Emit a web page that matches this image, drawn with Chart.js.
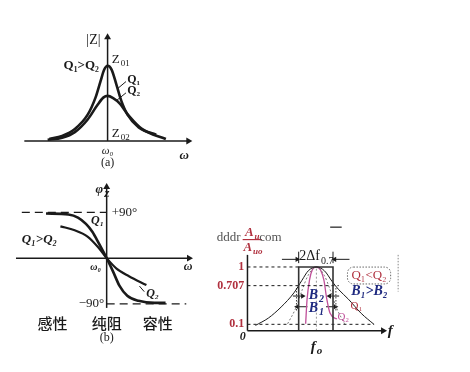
<!DOCTYPE html>
<html>
<head>
<meta charset="utf-8">
<script src="https://cdn.jsdelivr.net/npm/chart.js@4.4.1/dist/chart.umd.min.js"></script>
<style>
  body { margin: 0; background: #fff; width: 470px; height: 372px; overflow: hidden; }
  .box { position: absolute; }
  .box canvas { display: block; }
</style>
</head>
<body>
<div class="box" style="left:12px;top:28px;width:187px;height:147px"><canvas id="chartA" width="187" height="147"></canvas></div>
<div class="box" style="left:7px;top:178px;width:191px;height:173px"><canvas id="chartB" width="191" height="173"></canvas></div>
<div class="box" style="left:209px;top:212px;width:201px;height:145px"><canvas id="chartC" width="201" height="145"></canvas></div>
<script>
// (a) 阻抗幅频特性 |Z| - ω
const omegaQ1A = [0.30, 0.454, 0.607, 0.761, 0.856, 0.914, 0.96, 1.0, 1.048, 1.106, 1.163, 1.239, 1.374, 1.584];
const zQ1A     = [0.025, 0.068, 0.16, 0.35, 0.58, 0.79, 0.95, 1.0, 0.95, 0.75, 0.54, 0.35, 0.18, 0.084];
const omegaQ2A = [0.28, 0.454, 0.607, 0.761, 0.876, 0.952, 1.0, 1.067, 1.144, 1.259, 1.412, 1.70];
const zQ2A     = [0.015, 0.043, 0.118, 0.286, 0.475, 0.58, 0.60, 0.57, 0.50, 0.33, 0.16, 0.025];

// (b) 阻抗相频特性 φZ - ω
const omegaQ1B = [0.271, 0.54, 0.655, 0.751, 0.828, 0.903, 1.0, 1.076, 1.153, 1.248, 1.383, 1.575, 1.708];
const phiQ1B   = [88, 86, 80, 67.5, 52, 30, 0, -26, -54, -74, -84, -88, -88];
const omegaQ2B = [0.444, 0.616, 0.77, 0.903, 1.0, 1.115, 1.268, 1.478];
const phiQ2B   = [62.7, 55, 42.6, 20.6, 0, -20, -35.6, -53];
const phaseTicks = [90, -90];
const phaseTickLabels = ['+90°', '−90°'];
const regionLabels = ['感性', '纯阻', '容性'];

// (c) 通频带 Au/Auo - f
const fQ1C = [0.116, 0.303, 0.488, 0.674, 0.791, 0.883, 1.0, 1.116, 1.232, 1.325, 1.464, 1.65, 1.837];
const aQ1C = [0.083, 0.198, 0.371, 0.594, 0.792, 0.941, 1.0, 0.941, 0.767, 0.643, 0.495, 0.272, 0.098];
const fMidC = [0.582, 0.697, 0.795, 0.879, 1.0, 1.116, 1.199, 1.297, 1.409];
const aMidC = [0.108, 0.346, 0.643, 0.866, 1.0, 0.866, 0.643, 0.346, 0.108];
const fQ2C = [0.844, 0.865, 0.90, 0.941, 1.0, 1.06, 1.109, 1.151, 1.199, 1.297];
const aQ2C = [0.108, 0.495, 0.792, 0.955, 1.0, 0.955, 0.792, 0.495, 0.272, 0.183];
const gainTicks = [1, 0.707, 0.1];
const gainTickLabels = ['1', '0.707', '0.1'];
const bandEdges = [0.743, 1.241];

const SERIF = '"Liberation Serif", "DejaVu Serif", serif';
const CJK = '"Noto Sans CJK SC", sans-serif';
const INK = '#1a1a1a';
const RED = '#b0303e';
const NAVY = '#1f2a80';
const PURPLE = '#c0509a';

function zip(xs, ys) {
    return xs.map((x, i) => ({ x: x, y: ys[i] }));
}

// 画一条折线/曲线，可选终点箭头
function seg(points, opt) {
    opt = opt || {};
    const n = points.length;
    const radius = points.map((p, i) => (opt.arrowEnd && i === n - 1) ? (opt.arrowSize || 4) : 0);
    return {
        data: points,
        showLine: true,
        borderColor: opt.color || INK,
        backgroundColor: opt.color || INK,
        borderWidth: opt.width || 1.2,
        borderDash: opt.dash || [],
        cubicInterpolationMode: opt.smooth ? 'monotone' : 'default',
        tension: 0,
        pointRadius: radius,
        pointStyle: 'triangle',
        pointRotation: opt.endRot || 0,
        pointBorderWidth: 0,
        pointBackgroundColor: opt.color || INK,
        clip: false
    };
}

// 文字标注插件（按数据坐标定位）
const textLabels = {
    id: 'textLabels',
    afterDatasetsDraw(chart, args, opts) {
        const ctx = chart.ctx;
        const xs = chart.scales.x, ys = chart.scales.y;
        ctx.save();
        ctx.textBaseline = 'middle';
        ctx.textAlign = 'left';
        (opts.items || []).forEach(it => {
            const size = it.size || 12;
            const fam = it.family || SERIF;
            const style = it.style || '';
            const subSize = Math.round(size * 0.7);
            ctx.font = `${style} ${size}px ${fam}`;
            const w1 = ctx.measureText(it.text).width;
            let w2 = 0;
            if (it.sub) {
                ctx.font = `${style} ${subSize}px ${fam}`;
                w2 = ctx.measureText(it.sub).width + 1;
            }
            const total = w1 + w2;
            const px = xs.getPixelForValue(it.x);
            const py = ys.getPixelForValue(it.y);
            const left = it.align === 'left' ? px : it.align === 'right' ? px - total : px - total / 2;
            if (it.box) {
                ctx.strokeStyle = '#666';
                ctx.lineWidth = 1;
                ctx.setLineDash([1.5, 1.5]);
                ctx.beginPath();
                ctx.roundRect(left - 4, py - size * 0.65, total + 8, size * 1.3, 6);
                ctx.stroke();
                ctx.setLineDash([]);
            }
            ctx.fillStyle = it.color || INK;
            ctx.font = `${style} ${size}px ${fam}`;
            ctx.fillText(it.text, left, py);
            if (it.sub) {
                ctx.font = `${style} ${subSize}px ${fam}`;
                ctx.fillText(it.sub, left + w1 + 1, py + size * 0.32);
            }
        });
        ctx.restore();
    }
};

function baseOptions(xr, yr, items) {
    return {
        responsive: false,
        animation: false,
        layout: { padding: 0 },
        scales: {
            x: { type: 'linear', min: xr[0], max: xr[1], display: false },
            y: { type: 'linear', min: yr[0], max: yr[1], display: false }
        },
        plugins: {
            legend: { display: false },
            tooltip: { enabled: false },
            textLabels: { items: items }
        }
    };
}

// ---------- (a) ----------
new Chart(document.getElementById('chartA'), {
    type: 'scatter',
    data: {
        datasets: [
            seg([{ x: 0, y: 0 }, { x: 1.97, y: 0 }], { width: 1.5, arrowEnd: true, endRot: 90 }),
            seg([{ x: 1, y: 0 }, { x: 1, y: 1.38 }], { width: 1.5, arrowEnd: true }),
            seg(zip(omegaQ1A, zQ1A), { width: 2.6, smooth: true }),
            seg(zip(omegaQ2A, zQ2A), { width: 2.6, smooth: true }),
            seg([{ x: 1.221, y: 0.79 }, { x: 1.124, y: 0.70 }], { width: 1 }),
            seg([{ x: 1.221, y: 0.64 }, { x: 1.109, y: 0.54 }], { width: 1 })
        ]
    },
    options: baseOptions([-0.1, 2.05], [-0.4, 1.45], [
        { x: 0.83, y: 1.34, text: '|Z|', size: 14 },
        { x: 1.05, y: 1.08, text: 'Z', sub: '01', size: 13, align: 'left' },
        { x: 0.684, y: 1.0, text: 'Q₁>Q₂', size: 13, style: 'bold' },
        { x: 1.236, y: 0.815, text: 'Q₁', size: 12, style: 'bold', align: 'left' },
        { x: 1.236, y: 0.664, text: 'Q₂', size: 12, style: 'bold', align: 'left' },
        { x: 1.05, y: 0.10, text: 'Z', sub: '02', size: 13, align: 'left' },
        { x: 1.0, y: -0.13, text: 'ω₀', size: 11, style: 'italic' },
        { x: 1.92, y: -0.19, text: 'ω', size: 13, style: 'italic bold' },
        { x: 1.0, y: -0.29, text: '(a)', size: 12 }
    ]),
    plugins: [textLabels]
});

// ---------- (b) ----------
new Chart(document.getElementById('chartB'), {
    type: 'scatter',
    data: {
        datasets: [
            seg([{ x: -0.09, y: 0 }, { x: 1.99, y: 0 }], { width: 1.5, arrowEnd: true, endRot: 90 }),
            seg([{ x: 1, y: -98 }, { x: 1, y: 140 }], { width: 1.5, arrowEnd: true }),
            seg([{ x: -0.02, y: phaseTicks[0] }, { x: 1, y: phaseTicks[0] }], { width: 1.2, dash: [8, 5] }),
            seg([{ x: 1, y: phaseTicks[1] }, { x: 1.957, y: phaseTicks[1] }], { width: 1.2, dash: [8, 5] }),
            seg(zip(omegaQ1B, phiQ1B), { width: 2.6, smooth: true }),
            seg(zip(omegaQ2B, phiQ2B), { width: 2.2, smooth: true }),
            seg([{ x: 1.394, y: -55 }, { x: 1.452, y: -66 }], { width: 1 })
        ]
    },
    options: baseOptions([-0.15, 2.05], [-175, 150], [
        { x: 0.95, y: 134, text: 'φ', sub: 'Z', size: 13, style: 'italic bold' },
        { x: 1.061, y: phaseTicks[0], text: phaseTickLabels[0], size: 13, align: 'left' },
        { x: 0.97, y: phaseTicks[1], text: phaseTickLabels[1], size: 13, align: 'right' },
        { x: 0.89, y: 73, text: 'Q₁', size: 12, style: 'italic bold' },
        { x: -0.02, y: 37, text: 'Q₁>Q₂', size: 13, style: 'italic bold', align: 'left' },
        { x: 0.866, y: -19, text: 'ω₀', size: 10, style: 'italic bold' },
        { x: 1.98, y: -17, text: 'ω', size: 12, style: 'italic bold' },
        { x: 1.475, y: -70, text: 'Q₂', size: 12, style: 'italic bold', align: 'left' },
        { x: 0.349, y: -128, text: regionLabels[0], size: 15, family: CJK, style: '500' },
        { x: 1.0, y: -128, text: regionLabels[1], size: 15, family: CJK, style: '500' },
        { x: 1.613, y: -128, text: regionLabels[2], size: 15, family: CJK, style: '500' },
        { x: 1.0, y: -156, text: '(b)', size: 12 }
    ]),
    plugins: [textLabels]
});

// ---------- (c) ----------
const lo = bandEdges[0], hi = bandEdges[1];
new Chart(document.getElementById('chartC'), {
    type: 'scatter',
    data: {
        datasets: [
            seg([{ x: 0, y: 0 }, { x: 1.967, y: 0 }], { width: 1.5, arrowEnd: true, endRot: 90 }),
            seg([{ x: 0, y: 0 }, { x: 0, y: 1.19 }], { width: 1.5 }),
            seg([{ x: lo, y: 0 }, { x: lo, y: 1 }, { x: hi, y: 1 }, { x: hi, y: 0 }], { width: 1.6, color: '#333' }),
            seg([{ x: 0, y: gainTicks[0] }, { x: lo, y: gainTicks[0] }], { width: 1, dash: [3, 3] }),
            seg([{ x: 0, y: gainTicks[1] }, { x: 1.325, y: gainTicks[1] }], { width: 1, dash: [3, 3] }),
            seg([{ x: 0, y: gainTicks[2] }, { x: 1.837, y: gainTicks[2] }], { width: 1, dash: [3, 3] }),
            seg([{ x: 1, y: 0 }, { x: 1, y: 1 }], { width: 1, dash: [2, 2], color: '#999' }),
            seg(zip(fQ1C, aQ1C), { width: 1, smooth: true }),
            seg(zip(fMidC, aMidC), { width: 1, smooth: true, dash: [2, 2], color: '#777' }),
            seg(zip(fQ2C, aQ2C), { width: 1.3, smooth: true, color: PURPLE }),
            // 2Δf0.7 标注
            seg([{ x: lo, y: 1.06 }, { x: lo, y: 1.24 }], { width: 1 }),
            seg([{ x: hi, y: 1.06 }, { x: hi, y: 1.24 }], { width: 1 }),
            seg([{ x: 0.50, y: 1.12 }, { x: 0.72, y: 1.12 }], { width: 1, arrowEnd: true, endRot: 90, arrowSize: 3 }),
            seg([{ x: 1.48, y: 1.12 }, { x: 1.265, y: 1.12 }], { width: 1, arrowEnd: true, endRot: 270, arrowSize: 3 }),
            // B2 / B1 标注
            seg([{ x: 0.66, y: 0.544 }, { x: 0.80, y: 0.544 }], { width: 1, arrowEnd: true, endRot: 90, arrowSize: 3 }),
            seg([{ x: 1.33, y: 0.544 }, { x: 1.19, y: 0.544 }], { width: 1, arrowEnd: true, endRot: 270, arrowSize: 3 }),
            seg([{ x: 0.87, y: 0.376 }, { x: 0.72, y: 0.376 }], { width: 1, arrowEnd: true, endRot: 270, arrowSize: 3 }),
            seg([{ x: 1.14, y: 0.376 }, { x: 1.275, y: 0.376 }], { width: 1, arrowEnd: true, endRot: 90, arrowSize: 3 }),
            seg([{ x: 0.711, y: 0.67 }, { x: 0.711, y: 0.31 }], { width: 1, dash: [1.5, 1.5], color: '#444' }),
            seg([{ x: 1.283, y: 0.67 }, { x: 1.283, y: 0.31 }], { width: 1, dash: [1.5, 1.5], color: '#444' }),
            // 纵轴分式线、顶部短线、右侧点线
            seg([{ x: -0.07, y: 1.43 }, { x: 0.21, y: 1.43 }], { width: 1.2, color: RED }),
            seg([{ x: 1.2, y: 1.625 }, { x: 1.367, y: 1.625 }], { width: 1.2 }),
            seg([{ x: 2.186, y: 1.19 }, { x: 2.186, y: 0.614 }], { width: 1, dash: [1.5, 1.5], color: '#888' })
        ]
    },
    options: baseOptions([-0.5, 2.3], [-0.35, 1.8], [
        { x: -0.446, y: 1.46, text: 'dddr', size: 13, color: '#555', align: 'left' },
        { x: 0.17, y: 1.46, text: 'com', size: 13, color: '#555', align: 'left' },
        { x: 0.07, y: 1.54, text: 'A', sub: 'u', size: 13, style: 'italic bold', color: RED },
        { x: 0.08, y: 1.31, text: 'A', sub: 'uo', size: 13, style: 'italic bold', color: RED },
        { x: -0.045, y: gainTicks[0], text: gainTickLabels[0], size: 12, style: 'bold', color: RED, align: 'right' },
        { x: -0.045, y: gainTicks[1], text: gainTickLabels[1], size: 12, style: 'bold', color: RED, align: 'right' },
        { x: -0.045, y: gainTicks[2], text: gainTickLabels[2], size: 12, style: 'bold', color: RED, align: 'right' },
        { x: -0.07, y: -0.1, text: '0', size: 12, style: 'italic bold' },
        { x: 1.0, y: -0.25, text: 'f', sub: 'o', size: 15, style: 'italic bold' },
        { x: 2.07, y: 0.0, text: 'f', size: 15, style: 'italic bold' },
        { x: 1.0, y: 1.16, text: '2Δf', sub: '0.7', size: 14 },
        { x: 1.0, y: 0.56, text: 'B', sub: '2', size: 14, style: 'italic bold', color: NAVY },
        { x: 1.0, y: 0.35, text: 'B', sub: '1', size: 14, style: 'italic bold', color: NAVY },
        { x: 1.764, y: 0.866, text: 'Q₁<Q₂', size: 13, color: RED, box: true },
        { x: 1.771, y: 0.621, text: 'B₁>B₂', size: 14, style: 'italic bold', color: NAVY },
        { x: 1.58, y: 0.39, text: 'Q₁', size: 11, color: RED },
        { x: 1.39, y: 0.21, text: 'Q₂', size: 11, color: PURPLE }
    ]),
    plugins: [textLabels]
});
</script>
</body>
</html>
